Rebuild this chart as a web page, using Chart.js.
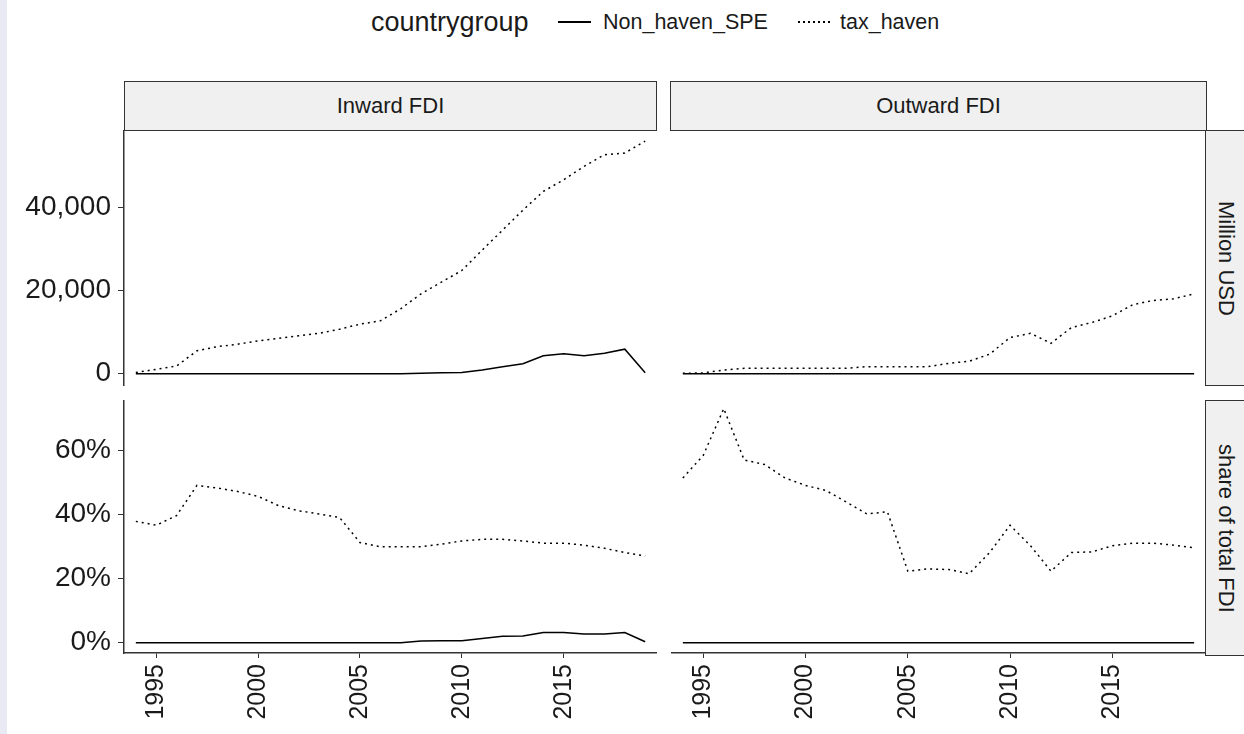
<!DOCTYPE html>
<html>
<head>
<meta charset="utf-8">
<script src="https://cdn.jsdelivr.net/npm/chart.js@4.4.1/dist/chart.umd.min.js"></script>
<style>
  body { margin: 0; background: #fff; }
  #page { position: relative; width: 1244px; height: 734px; overflow: hidden; background: #fff;
          font-family: "Liberation Sans", Arial, sans-serif; color: #1a1a1a; }
  .edge { position: absolute; left: 0; top: 0; width: 7px; height: 734px; background: #e9e9f3; }
  .lg { position: absolute; top: 7px; line-height: 30px; white-space: nowrap; }
  .key { position: absolute; top: 21px; height: 1.5px; background: #000; }
  .key.dot { background: repeating-linear-gradient(to right, #000 0 2px, transparent 2px 5px); }
  .strip { position: absolute; box-sizing: border-box; background: #f0f0f0; border: 1.5px solid #333;
           display: flex; align-items: center; justify-content: center; font-size: 22px; color: #1a1a1a; }
  .strip.side span { writing-mode: vertical-rl; }
  canvas { position: absolute; }
</style>
</head>
<body>
<div id="page">
  <div class="edge"></div>

  <div class="lg" style="left:371px; font-size:27px;">countrygroup</div>
  <div class="key" style="left:558px; width:33px;"></div>
  <div class="lg" style="left:603px; font-size:21.5px;" id="g1"></div>
  <div class="key dot" style="left:798px; width:32px;"></div>
  <div class="lg" style="left:840px; font-size:21.5px;" id="g2"></div>

  <div class="strip" style="left:124px; top:81px; width:533px; height:50px;" id="s1"></div>
  <div class="strip" style="left:670px; top:81px; width:537px; height:50px;" id="s2"></div>
  <div class="strip side" style="left:1205px; top:130px; width:42px; height:256px;"><span id="s3"></span></div>
  <div class="strip side" style="left:1205px; top:400px; width:42px; height:256px;"><span id="s4"></span></div>

  <canvas id="cTL" width="657" height="256" style="left:0; top:130px;"></canvas>
  <canvas id="cTR" width="535" height="256" style="left:671px; top:130px;"></canvas>
  <canvas id="cBL" width="657" height="334" style="left:0; top:400px;"></canvas>
  <canvas id="cBR" width="535" height="334" style="left:671px; top:400px;"></canvas>
</div>

<script>
// data
const years = [1994, 1995, 1996, 1997, 1998, 1999, 2000, 2001, 2002, 2003, 2004, 2005, 2006,
               2007, 2008, 2009, 2010, 2011, 2012, 2013, 2014, 2015, 2016, 2017, 2018, 2019];

const groups = ['Non_haven_SPE', 'tax_haven'];
const facetCols = ['Inward FDI', 'Outward FDI'];
const facetRows = ['Million USD', 'share of total FDI'];

// Million USD
const inUsdNonHaven = [0, 0, 0, 0, 0, 0, 0, 0, 0, 0, 0, 0, 0,
                       0, 100, 250, 300, 900, 1700, 2400, 4300, 4800, 4300, 4900, 5900, 250];
const inUsdTaxHaven = [300, 1050, 1850, 5500, 6500, 7100, 7900, 8500, 9100, 9700, 10700, 11900, 12700,
                       15600, 19200, 22000, 24800, 29700, 34500, 39300, 43800, 46600, 49800, 52600, 53000, 55900];
const outUsdNonHaven = [0, 0, 0, 0, 0, 0, 0, 0, 0, 0, 0, 0, 0,
                        0, 0, 0, 0, 0, 0, 0, 0, 0, 0, 0, 0, 0];
const outUsdTaxHaven = [100, 200, 900, 1300, 1300, 1300, 1300, 1300, 1300, 1700, 1700, 1700, 1700,
                        2500, 3000, 4700, 8700, 9700, 7300, 11100, 12300, 13900, 16600, 17600, 18000, 19200];

// share of total FDI (%)
const inShareNonHaven = [0, 0, 0, 0, 0, 0, 0, 0, 0, 0, 0, 0, 0,
                         0, 0.5, 0.6, 0.6, 1.3, 2.0, 2.1, 3.2, 3.2, 2.7, 2.7, 3.2, 0.3];
const inShareTaxHaven = [37.8, 36.6, 39.6, 49.0, 48.2, 47.1, 45.6, 42.7, 41.1, 40.1, 39.0, 31.2, 29.9,
                         29.9, 29.9, 30.7, 31.7, 32.2, 32.2, 31.7, 31.0, 31.0, 30.4, 29.4, 28.1, 27.0];
const outShareNonHaven = [0, 0, 0, 0, 0, 0, 0, 0, 0, 0, 0, 0, 0,
                          0, 0, 0, 0, 0, 0, 0, 0, 0, 0, 0, 0, 0];
const outShareTaxHaven = [51.3, 58.4, 72.9, 56.9, 55.5, 51.3, 49.0, 47.4, 43.8, 40.1, 40.8, 22.3, 23.0,
                          22.8, 21.5, 28.1, 36.6, 30.2, 22.3, 28.1, 28.3, 30.2, 31.0, 31.0, 30.4, 29.6];

const xTicks = [1995, 2000, 2005, 2010, 2015];
const usdTicks = [0, 20000, 40000];
const shareTicks = [0, 20, 40, 60];

// labels
document.getElementById('g1').textContent = groups[0];
document.getElementById('g2').textContent = groups[1];
document.getElementById('s1').textContent = facetCols[0];
document.getElementById('s2').textContent = facetCols[1];
document.getElementById('s3').textContent = facetRows[0];
document.getElementById('s4').textContent = facetRows[1];

const FONT = '"Liberation Sans", Arial, sans-serif';
const AXIS = '#333';

function points(vals) {
  return years.map((yr, i) => ({ x: yr, y: vals[i] }));
}

function makePanel(id, nonHaven, taxHaven, o) {
  const ctx = document.getElementById(id).getContext('2d');
  return new Chart(ctx, {
    type: 'line',
    data: {
      datasets: [
        { label: groups[0], data: points(nonHaven), borderColor: '#000', borderWidth: 1.5,
          pointRadius: 0, tension: 0 },
        { label: groups[1], data: points(taxHaven), borderColor: '#000', borderWidth: 1.5,
          borderDash: [2, 4], pointRadius: 0, tension: 0 }
      ]
    },
    options: {
      responsive: false,
      animation: false,
      devicePixelRatio: 1,
      layout: { padding: 0 },
      plugins: { legend: { display: false }, tooltip: { enabled: false } },
      scales: {
        x: {
          type: 'linear',
          min: 1993.42,
          max: 2019.58,
          display: o.showX,
          afterBuildTicks: s => { s.ticks = xTicks.map(v => ({ value: v })); },
          afterFit: s => {
            s.height = o.showX ? 81 : 0;
            s.paddingLeft = 0; s.paddingRight = 0;
          },
          grid: { drawOnChartArea: false, drawTicks: true, tickLength: 5, color: AXIS, lineWidth: 1 },
          border: { display: true, color: AXIS, width: 1.5 },
          ticks: {
            autoSkip: false, maxRotation: 90, minRotation: 90, padding: 6,
            color: '#1a1a1a', font: { family: FONT, size: 25 },
            callback: v => String(v)
          }
        },
        y: {
          min: o.yMin,
          max: o.yMax,
          display: o.showY,
          afterBuildTicks: s => { s.ticks = o.yTicks.map(v => ({ value: v })); },
          afterFit: s => {
            s.width = o.showY ? 124 : 0;
            s.paddingTop = 0; s.paddingBottom = 0;
          },
          grid: { drawOnChartArea: false, drawTicks: true, tickLength: 6, color: AXIS, lineWidth: 1 },
          border: { display: true, color: AXIS, width: 1.5 },
          ticks: {
            padding: 7, color: '#1a1a1a', font: { family: FONT, size: 28 },
            callback: o.fmt
          }
        }
      }
    }
  });
}

const usdFmt = v => v.toLocaleString('en-US');
const pctFmt = v => v + '%';

makePanel('cTL', inUsdNonHaven, inUsdTaxHaven,
  { showX: false, showY: true, yMin: -2950, yMax: 58550, yTicks: usdTicks, fmt: usdFmt });
makePanel('cTR', outUsdNonHaven, outUsdTaxHaven,
  { showX: false, showY: false, yMin: -2950, yMax: 58550, yTicks: usdTicks, fmt: usdFmt });
makePanel('cBL', inShareNonHaven, inShareTaxHaven,
  { showX: true, showY: true, yMin: -3.2, yMax: 75.6, yTicks: shareTicks, fmt: pctFmt });
makePanel('cBR', outShareNonHaven, outShareTaxHaven,
  { showX: true, showY: false, yMin: -3.2, yMax: 75.6, yTicks: shareTicks, fmt: pctFmt });
</script>
</body>
</html>
